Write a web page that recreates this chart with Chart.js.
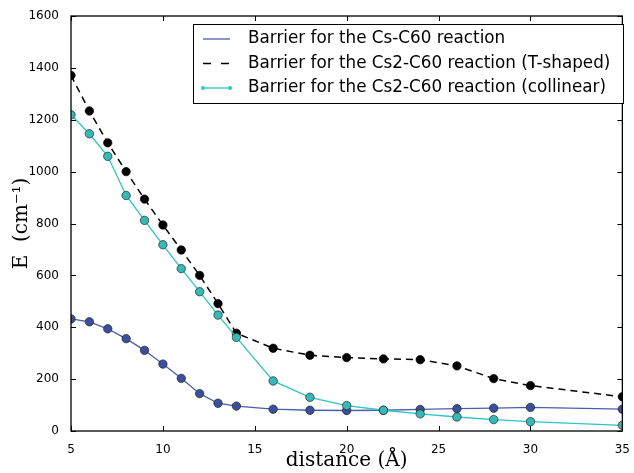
<!DOCTYPE html>
<html>
<head>
<meta charset="utf-8">
<script src="https://cdn.jsdelivr.net/npm/chart.js@4.4.0/dist/chart.umd.min.js"></script>
<style>
  body { margin: 0; background: #fff; }
  canvas { display: block; }
</style>
</head>
<body>
<canvas id="chart" width="634" height="473"></canvas>
<script>
// distance in Angstrom, same for all three curves
const distances = [5, 6, 7, 8, 9, 10, 11, 12, 13, 14, 16, 18, 20, 22, 24, 26, 28, 30, 35];
const csC60 = [432, 421, 394, 356, 311, 258, 203, 144, 107, 96, 84, 80, 79, 80, 83, 86, 88, 91, 84];
const cs2TShaped = [1371, 1234, 1111, 1000, 894, 794, 698, 600, 491, 377, 319, 292, 283, 278, 275, 251, 202, 175, 132];
const cs2Collinear = [1219, 1146, 1059, 908, 812, 718, 626, 537, 447, 361, 193, 130, 98, 80, 66, 54, 44, 36, 22];
const seriesLabels = [
    'Barrier for the Cs-C60 reaction',
    'Barrier for the Cs2-C60 reaction (T-shaped)',
    'Barrier for the Cs2-C60 reaction (collinear)'
];
const xTicks = [5, 10, 15, 20, 25, 30, 35];
const yTicks = [0, 200, 400, 600, 800, 1000, 1200, 1400, 1600];

const blueLine = '#4560ad';
const blueDot = '#3b4f9f';
const cyanLine = '#2ec4c4';
const cyanDot = '#38b9b9';

function points(ys) {
    return distances.map((d, i) => ({ x: d, y: ys[i] }));
}

// matplotlib style: box frame, ticks pointing inward on all 4 sides
const frameAndTicks = {
    id: 'frameAndTicks',
    afterDraw(chart) {
        const ctx = chart.ctx;
        const a = chart.chartArea;
        const xs = chart.scales.x;
        const ys = chart.scales.y;
        const len = 5;
        ctx.save();
        ctx.strokeStyle = '#000';
        ctx.lineWidth = 1;
        ctx.beginPath();
        xTicks.forEach(v => {
            const px = Math.round(xs.getPixelForValue(v)) + 0.5;
            ctx.moveTo(px, a.bottom); ctx.lineTo(px, a.bottom - len);
            ctx.moveTo(px, a.top); ctx.lineTo(px, a.top + len);
        });
        yTicks.forEach(v => {
            const py = Math.round(ys.getPixelForValue(v)) + 0.5;
            ctx.moveTo(a.left, py); ctx.lineTo(a.left + len, py);
            ctx.moveTo(a.right, py); ctx.lineTo(a.right - len, py);
        });
        ctx.stroke();
        ctx.lineWidth = 1.3;
        ctx.strokeRect(a.left, a.top, a.right - a.left, a.bottom - a.top);
        ctx.restore();
    }
};

// legend box in the upper right corner of the axes
const boxLegend = {
    id: 'boxLegend',
    afterDraw(chart) {
        const ctx = chart.ctx;
        const bx = 193, by = 24, bw = 430, bh = 79;
        ctx.save();
        ctx.fillStyle = '#fff';
        ctx.fillRect(bx, by, bw, bh);
        ctx.strokeStyle = '#000';
        ctx.lineWidth = 1;
        ctx.strokeRect(bx + 0.5, by + 0.5, bw, bh);

        const rows = [39, 63.5, 88];
        const x0 = 203, x1 = 230;
        ctx.font = '16.8px "DejaVu Sans"';
        ctx.textBaseline = 'middle';
        ctx.fillStyle = '#000';

        // blue solid
        ctx.strokeStyle = blueLine;
        ctx.lineWidth = 1.3;
        ctx.beginPath(); ctx.moveTo(x0, rows[0]); ctx.lineTo(x1, rows[0]); ctx.stroke();
        // black dashed
        ctx.strokeStyle = '#000';
        ctx.lineWidth = 1.5;
        ctx.setLineDash([8, 10]);
        ctx.beginPath(); ctx.moveTo(x0, rows[1]); ctx.lineTo(x1 + 1, rows[1]); ctx.stroke();
        ctx.setLineDash([]);
        // cyan with small dots at both ends
        ctx.strokeStyle = cyanLine;
        ctx.lineWidth = 1.3;
        ctx.beginPath(); ctx.moveTo(x0, rows[2]); ctx.lineTo(x1, rows[2]); ctx.stroke();
        ctx.fillStyle = cyanLine;
        [x0, x1].forEach(x => {
            ctx.beginPath(); ctx.arc(x, rows[2], 2, 0, Math.PI * 2); ctx.fill();
        });

        ctx.fillStyle = '#000';
        seriesLabels.forEach((t, i) => ctx.fillText(t, 248, rows[i]));
        ctx.restore();
    }
};

new Chart(document.getElementById('chart'), {
    type: 'line',
    data: {
        datasets: [
            {
                label: seriesLabels[0],
                data: points(csC60),
                borderColor: blueLine,
                borderWidth: 1.3,
                pointBackgroundColor: blueDot,
                pointBorderColor: '#222',
                pointBorderWidth: 0.7,
                pointRadius: 4.2,
                tension: 0,
                clip: 0,
                order: 3
            },
            {
                label: seriesLabels[1],
                data: points(cs2TShaped),
                borderColor: '#000',
                borderWidth: 1.5,
                borderDash: [7, 5],
                pointBackgroundColor: '#000',
                pointBorderColor: '#000',
                pointBorderWidth: 0.7,
                pointRadius: 4.2,
                tension: 0,
                clip: 0,
                order: 2
            },
            {
                label: seriesLabels[2],
                data: points(cs2Collinear),
                borderColor: cyanLine,
                borderWidth: 1.3,
                pointBackgroundColor: cyanDot,
                pointBorderColor: '#222',
                pointBorderWidth: 0.7,
                pointRadius: 4.2,
                tension: 0,
                clip: 0,
                order: 1
            }
        ]
    },
    options: {
        responsive: false,
        animation: false,
        layout: { padding: { top: 16, right: 8, left: 0, bottom: 0 } },
        plugins: {
            legend: { display: false },
            tooltip: { enabled: false }
        },
        scales: {
            x: {
                type: 'linear',
                min: 5,
                max: 35,
                afterFit: s => { s.height = 42; },
                afterBuildTicks: s => { s.ticks = xTicks.map(v => ({ value: v })); },
                grid: { display: false },
                border: { display: false },
                ticks: {
                    color: '#000',
                    font: { family: 'DejaVu Sans', size: 12 },
                    padding: 4,
                    maxRotation: 0,
                    callback: v => String(v)
                },
                title: {
                    display: true,
                    text: 'distance (Å)',
                    color: '#000',
                    font: { family: 'DejaVu Serif', size: 20 },
                    padding: { top: 0, bottom: 0 }
                }
            },
            y: {
                min: 0,
                max: 1600,
                afterFit: s => { s.width = 71; },
                afterBuildTicks: s => { s.ticks = yTicks.map(v => ({ value: v })); },
                grid: { display: false },
                border: { display: false },
                ticks: {
                    color: '#000',
                    font: { family: 'DejaVu Sans', size: 12 },
                    padding: 4,
                    callback: v => String(v)
                },
                title: {
                    display: true,
                    text: 'E  (cm⁻¹)',
                    color: '#000',
                    font: { family: 'DejaVu Serif', size: 20 },
                    padding: { top: 10, bottom: 0 }
                }
            }
        }
    },
    plugins: [frameAndTicks, boxLegend, {
        id: 'whiteBg',
        beforeDraw(chart) {
            const c = chart.ctx;
            c.save();
            c.fillStyle = '#fff';
            c.fillRect(0, 0, chart.width, chart.height);
            c.restore();
        }
    }]
});
</script>
</body>
</html>
